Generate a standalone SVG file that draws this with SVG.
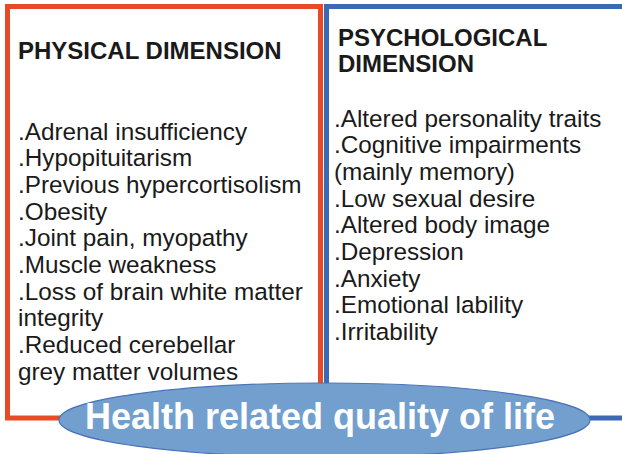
<svg xmlns="http://www.w3.org/2000/svg" width="622" height="454" viewBox="0 0 622 454">
  <style>
    .head { font-family: "Liberation Sans", Arial, sans-serif; font-weight: bold; font-size: 24px; fill: #1a1a1a; }
    .item { font-family: "Liberation Sans", Arial, sans-serif; font-size: 24.3px; fill: #1a1a1a; }
    .hrqol { font-family: "Liberation Sans", Arial, sans-serif; font-weight: bold; font-size: 36px; fill: #ffffff; }
  </style>
  <rect width="622" height="454" fill="#ffffff"/>

  <!-- physical dimension panel -->
  <g id="physical">
    <rect x="7.5" y="6.5" width="313" height="411.5" fill="none" stroke="#e84a27" stroke-width="5"/>
    <text class="head" x="18" y="59">PHYSICAL DIMENSION</text>
    <text class="item" x="18" y="139.5">.Adrenal insufficiency</text>
    <text class="item" x="18" y="166.2">.Hypopituitarism</text>
    <text class="item" x="18" y="192.9">.Previous hypercortisolism</text>
    <text class="item" x="18" y="219.6">.Obesity</text>
    <text class="item" x="18" y="246.3">.Joint pain, myopathy</text>
    <text class="item" x="18" y="273">.Muscle weakness</text>
    <text class="item" x="18" y="299.7">.Loss of brain white matter</text>
    <text class="item" x="18" y="326.4">integrity</text>
    <text class="item" x="18" y="353.1">.Reduced cerebellar</text>
    <text class="item" x="18" y="379.8">grey matter volumes</text>
  </g>

  <!-- psychological dimension panel -->
  <g id="psychological">
    <rect x="326.5" y="6.5" width="310" height="411.5" fill="none" stroke="#3c69b4" stroke-width="5"/>
    <text class="head" x="338" y="46">PSYCHOLOGICAL</text>
    <text class="head" x="338" y="72">DIMENSION</text>
    <text class="item" x="334" y="126.5">.Altered personality traits</text>
    <text class="item" x="334" y="153.2">.Cognitive impairments</text>
    <text class="item" x="334" y="179.9">(mainly memory)</text>
    <text class="item" x="334" y="206.6">.Low sexual desire</text>
    <text class="item" x="334" y="233.3">.Altered body image</text>
    <text class="item" x="334" y="260">.Depression</text>
    <text class="item" x="334" y="286.7">.Anxiety</text>
    <text class="item" x="334" y="313.4">.Emotional lability</text>
    <text class="item" x="334" y="340.1">.Irritability</text>
  </g>

  <!-- quality of life ellipse -->
  <g id="hrqol">
    <ellipse cx="324.5" cy="420" rx="265.5" ry="37" fill="#729fce" stroke="#4a74b8" stroke-width="1.2"/>
    <text class="hrqol" x="320" y="429" text-anchor="middle">Health related quality of life</text>
  </g>
</svg>
